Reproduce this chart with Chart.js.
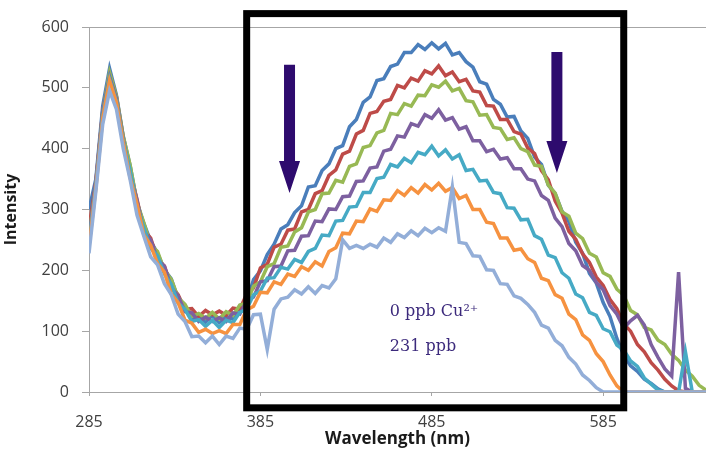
<!DOCTYPE html>
<html>
<head>
<meta charset="utf-8">
<script src="https://cdn.jsdelivr.net/npm/chart.js@4.4.0/dist/chart.umd.min.js"></script>
<style>
  html, body { margin: 0; padding: 0; background: #fff; }
</style>
</head>
<body>
<canvas id="spectra" width="706" height="449"></canvas>
<script>
// wavelength (nm) of every sample
const wavelengths = [
  285, 289, 293, 297, 301, 305, 309, 313, 317, 321, 325, 329, 333, 337, 341, 345, 349, 353, 357, 361,
  365, 369, 373, 377, 381, 385, 389, 393, 397, 401, 405, 409, 413, 417, 421, 425, 429, 433, 437, 441,
  445, 449, 453, 457, 461, 465, 469, 473, 477, 481, 485, 489, 493, 497, 501, 505, 509, 513, 517, 521,
  525, 529, 533, 537, 541, 545, 549, 553, 557, 561, 565, 569, 573, 577, 581, 585, 589, 593, 597, 601,
  605, 609, 613, 617, 621, 625, 629, 633, 637, 641, 645
];

const xTicks = [285, 385, 485, 585];
const yTicks = [0, 100, 200, 300, 400, 500, 600];

// intensity, from 0 ppb Cu2+ (top) down to 231 ppb (bottom)
const series1 = [
  300, 350, 470, 532, 488, 420, 372, 312, 277, 248, 228, 201, 186, 153, 142, 119, 125, 115, 126, 114,
  124, 120, 142, 147, 185, 199, 226, 243, 268, 275, 295, 306, 337, 339, 364, 375, 400, 405, 436, 448,
  476, 485, 512, 515, 535, 539, 558, 558, 571, 563, 574, 564, 573, 554, 558, 543, 534, 510, 506, 481,
  473, 452, 453, 429, 417, 386, 374, 340, 326, 297, 280, 246, 228, 195, 179, 147, 124, 88, 61, 43,
  34, 21, 14, 5, 0, 0, 0, 0, 0, 0, 0
];
const series2 = [
  270, 345, 462, 520, 485, 418, 361, 317, 266, 253, 218, 207, 174, 160, 136, 137, 124, 134, 127, 133,
  126, 138, 136, 161, 171, 204, 210, 238, 243, 266, 268, 296, 300, 326, 331, 356, 365, 391, 396, 424,
  430, 458, 461, 478, 481, 504, 500, 516, 511, 528, 523, 536, 520, 526, 510, 514, 495, 493, 471, 470,
  448, 448, 428, 424, 401, 392, 364, 349, 314, 294, 264, 251, 227, 213, 189, 175, 152, 137, 112, 100,
  78, 66, 48, 36, 21, 10, 2, 0, 0, 0, 0
];
const series3 = [
  255, 340, 460, 525, 486, 420, 373, 311, 278, 241, 231, 200, 185, 155, 144, 124, 129, 121, 131, 120,
  132, 126, 143, 146, 174, 181, 206, 211, 238, 240, 263, 270, 296, 300, 326, 327, 348, 345, 371, 375,
  402, 405, 426, 430, 458, 456, 474, 470, 488, 487, 505, 501, 511, 495, 499, 479, 477, 455, 456, 435,
  433, 415, 418, 400, 395, 373, 371, 340, 327, 296, 289, 261, 252, 228, 222, 196, 190, 169, 159, 134,
  127, 106, 102, 85, 78, 62, 52, 36, 26, 11, 3
];
const series4 = [
  250, 345, 460, 518, 482, 415, 358, 315, 264, 250, 218, 207, 172, 158, 132, 130, 116, 123, 116, 122,
  116, 130, 128, 150, 156, 181, 183, 206, 207, 232, 233, 256, 257, 281, 280, 301, 300, 321, 322, 346,
  347, 368, 370, 396, 399, 421, 419, 441, 437, 456, 450, 464, 447, 451, 432, 436, 413, 413, 395, 399,
  383, 385, 367, 367, 350, 347, 323, 315, 286, 272, 244, 232, 208, 200, 180, 168, 142, 128, 105, 117,
  126, 110, 78, 57, 38, 26, 197, 6, 0, 0, 0
];
const series5 = [
  245, 340, 455, 515, 478, 412, 364, 305, 270, 236, 224, 194, 177, 146, 136, 116, 119, 108, 118, 106,
  118, 114, 131, 136, 160, 166, 187, 188, 205, 202, 218, 213, 231, 236, 258, 257, 281, 282, 304, 305,
  328, 328, 351, 353, 374, 370, 384, 377, 394, 390, 404, 388, 398, 383, 390, 364, 366, 347, 348, 328,
  326, 303, 302, 283, 284, 257, 251, 225, 221, 196, 187, 161, 155, 131, 126, 104, 99, 77, 69, 51,
  42, 23, 13, 3, 0, 0, 0, 66, 0, 0, 0
];
const series6 = [
  240, 335, 450, 512, 476, 410, 352, 309, 258, 241, 211, 197, 161, 147, 118, 113, 98, 103, 96, 101,
  96, 111, 111, 135, 141, 164, 163, 181, 177, 194, 190, 206, 200, 214, 207, 231, 237, 261, 260, 281,
  280, 301, 297, 316, 315, 331, 323, 336, 327, 341, 332, 343, 330, 336, 318, 323, 300, 300, 279, 277,
  253, 253, 233, 235, 219, 213, 187, 183, 160, 154, 128, 119, 94, 85, 63, 50, 28, 10, 0, 0,
  0, 0, 0, 0, 0, 0, 0, 0, 0, 0, 0
];
const series7 = [
  228, 330, 440, 495, 465, 400, 349, 291, 256, 222, 209, 178, 160, 128, 116, 91, 92, 81, 92, 78,
  92, 88, 105, 103, 127, 128, 70, 136, 153, 156, 168, 161, 173, 162, 175, 171, 186, 250, 236, 241,
  236, 243, 238, 253, 246, 260, 254, 265, 257, 269, 262, 270, 264, 337, 246, 244, 224, 223, 201, 200,
  178, 177, 158, 154, 144, 131, 110, 105, 85, 76, 57, 46, 28, 19, 7, 0, 0, 0, 0, 0,
  0, 0, 0, 0, 0, 0, 0, 0, 0, 0, 0
];

const seriesList = [series1, series2, series3, series4, series5, series6, series7];
const seriesColors = ['#4a7ebb', '#be4b48', '#98b954', '#7d60a0', '#46aac5', '#f69240', '#93aed8'];

// drawn-on annotations, placed in data units
const frame = { x0: 377, x1: 597, y0: -26, y1: 622 };
const arrows = [
  { x: 402, top: 538, tip: 327 },
  { x: 558, top: 559, tip: 360 }
];
const notes = [
  { x: 460.5, y: 131, text: '0 ppb Cu²⁺' },
  { x: 460.5, y: 74, text: '231 ppb' }
];

const overlay = {
  id: 'overlay',
  afterDatasetsDraw(chart) {
    const { ctx, scales: { x, y } } = chart;
    ctx.save();

    ctx.strokeStyle = '#000';
    ctx.lineWidth = 7;
    const l = x.getPixelForValue(frame.x0), r = x.getPixelForValue(frame.x1);
    const t = y.getPixelForValue(frame.y1), b = y.getPixelForValue(frame.y0);
    ctx.strokeRect(l, t, r - l, b - t);

    ctx.fillStyle = '#2e0b6e';
    arrows.forEach(a => {
      const cx = x.getPixelForValue(a.x);
      const top = y.getPixelForValue(a.top);
      const tip = y.getPixelForValue(a.tip);
      const neck = tip - 32;
      ctx.beginPath();
      ctx.moveTo(cx - 5.5, top);
      ctx.lineTo(cx + 5.5, top);
      ctx.lineTo(cx + 5.5, neck);
      ctx.lineTo(cx + 10.5, neck);
      ctx.lineTo(cx, tip);
      ctx.lineTo(cx - 10.5, neck);
      ctx.lineTo(cx - 5.5, neck);
      ctx.closePath();
      ctx.fill();
    });

    ctx.fillStyle = '#3c2a7c';
    ctx.font = '16px "DejaVu Serif"';
    ctx.textBaseline = 'middle';
    ctx.textAlign = 'left';
    notes.forEach(n => {
      ctx.fillText(n.text, x.getPixelForValue(n.x), y.getPixelForValue(n.y));
    });

    ctx.restore();
  }
};

new Chart(document.getElementById('spectra'), {
  type: 'line',
  data: {
    labels: wavelengths,
    datasets: seriesList.map((s, i) => ({
      label: 'Series' + (i + 1),
      data: s.map((v, k) => ({ x: wavelengths[k], y: v })),
      borderColor: seriesColors[i],
      borderWidth: 3.5,
      pointRadius: 0,
      tension: 0,
      order: seriesList.length - i
    }))
  },
  options: {
    responsive: false,
    animation: false,
    layout: { padding: { top: 27, right: 0, bottom: 0, left: 0 } },
    plugins: {
      legend: { display: false },
      tooltip: { enabled: false }
    },
    scales: {
      x: {
        type: 'linear',
        min: 285,
        max: 645,
        afterBuildTicks: s => { s.ticks = xTicks.map(v => ({ value: v })); },
        afterFit: s => { s.height = 57; },
        grid: { drawOnChartArea: false, color: '#a6a6a6', tickLength: 4 },
        border: { color: '#a6a6a6' },
        ticks: {
          padding: 17,
          color: '#404040',
          autoSkip: false,
          maxRotation: 0,
          font: { family: 'Open Sans', size: 16 }
        },
        title: {
          display: true,
          text: 'Wavelength (nm)',
          color: '#1a1a1a',
          font: { family: 'Open Sans', size: 17, weight: 'bold' },
          padding: { top: 0, bottom: 0 }
        }
      },
      y: {
        min: 0,
        max: 600,
        afterBuildTicks: s => { s.ticks = yTicks.map(v => ({ value: v })); },
        afterFit: s => { s.width = 89; },
        grid: {
          color: c => (c.tick && c.tick.value === 600) ? '#a6a6a6' : 'rgba(0,0,0,0)',
          tickColor: '#a6a6a6',
          tickLength: 7
        },
        border: { color: '#a6a6a6' },
        ticks: {
          padding: 13,
          color: '#404040',
          font: { family: 'Open Sans', size: 16 }
        },
        title: {
          display: true,
          text: 'Intensity',
          color: '#1a1a1a',
          font: { family: 'Open Sans', size: 16, weight: 'bold' },
          padding: { top: 2, bottom: 0 }
        }
      }
    }
  },
  plugins: [overlay]
});
</script>
</body>
</html>
